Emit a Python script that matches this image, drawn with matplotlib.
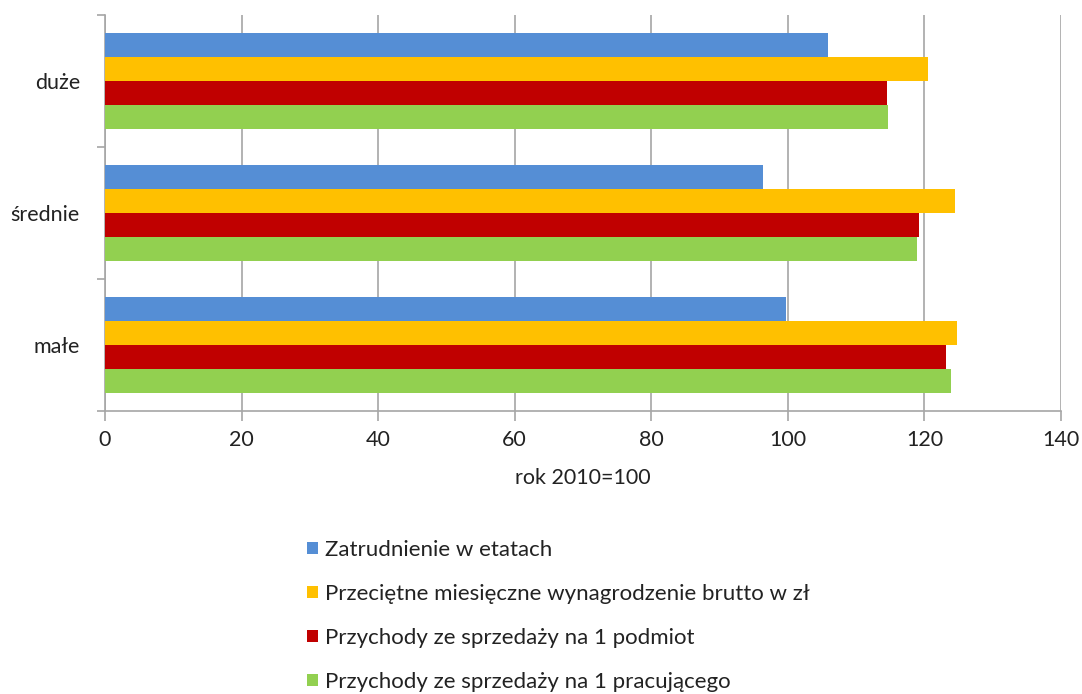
import matplotlib
matplotlib.use("Agg")
import matplotlib.pyplot as plt
from matplotlib.patches import Patch
import numpy as np

categories = ["małe", "średnie", "duże"]
series_names = [
    "Zatrudnienie w etatach",
    "Przeciętne miesięczne wynagrodzenie brutto w zł",
    "Przychody ze sprzedaży na 1 podmiot",
    "Przychody ze sprzedaży na 1 pracującego",
]
zatrudnienie = [99.7, 96.4, 105.9]
wynagrodzenie = [124.7, 124.5, 120.5]
przychody_podmiot = [123.2, 119.2, 114.5]
przychody_pracujacy = [123.9, 118.9, 114.6]
colors = ["#558ED5", "#FFC000", "#C00000", "#92D050"]
xticks = [0, 20, 40, 60, 80, 100, 120, 140]

plt.rcParams["font.family"] = ["Lato", "DejaVu Sans"]

fig = plt.figure(figsize=(10.82, 6.94), dpi=100)
ax = fig.add_axes([105/1082, 1 - 411/694, (1061-105)/1082, (411-15)/694])

series = [zatrudnienie, wynagrodzenie, przychody_podmiot, przychody_pracujacy]
y = np.arange(len(categories))
h = 0.727 / 4
offsets = [1.5*h, 0.5*h, -0.5*h, -1.5*h]
for vals, off, c, name in zip(series, offsets, colors, series_names):
    ax.barh(y + off, vals, height=h, color=c, label=name, zorder=3)

ax.set_xlim(0, 140)
ax.set_ylim(-0.5, 2.5)
ax.set_xticks(xticks)
ax.set_xticklabels([str(t) for t in xticks], fontsize=15.5, color="#222222")
ax.set_yticks(y)
ax.set_yticklabels(categories, fontsize=15.5, color="#222222")
ax.set_yticks([-0.5, 0.5, 1.5, 2.5], minor=True)
ax.tick_params(axis="y", which="major", length=0, pad=18)
ax.tick_params(axis="y", which="minor", length=6, color="#A6A6A6", width=1.2)
ax.tick_params(axis="x", length=7, color="#A6A6A6", width=1.2, pad=7)
ax.grid(axis="x", color="#A6A6A6", linewidth=1.2, zorder=0)
for s in ["top", "right"]:
    ax.spines[s].set_visible(False)
for s in ["left", "bottom"]:
    ax.spines[s].set_color("#A6A6A6")
    ax.spines[s].set_linewidth(1.2)
ax.set_xlabel("rok 2010=100", fontsize=15.5, color="#222222", labelpad=13)

handles = [Patch(facecolor=c, edgecolor="none") for c in colors]
fig.legend(handles, series_names, loc="upper left", bbox_to_anchor=(287/1082, 1 - 520/694),
           frameon=False, fontsize=16, handlelength=0.5, handleheight=0.5,
           handletextpad=0.3, labelspacing=1.08, labelcolor="#222222")

fig.savefig("out.png", dpi=100)
